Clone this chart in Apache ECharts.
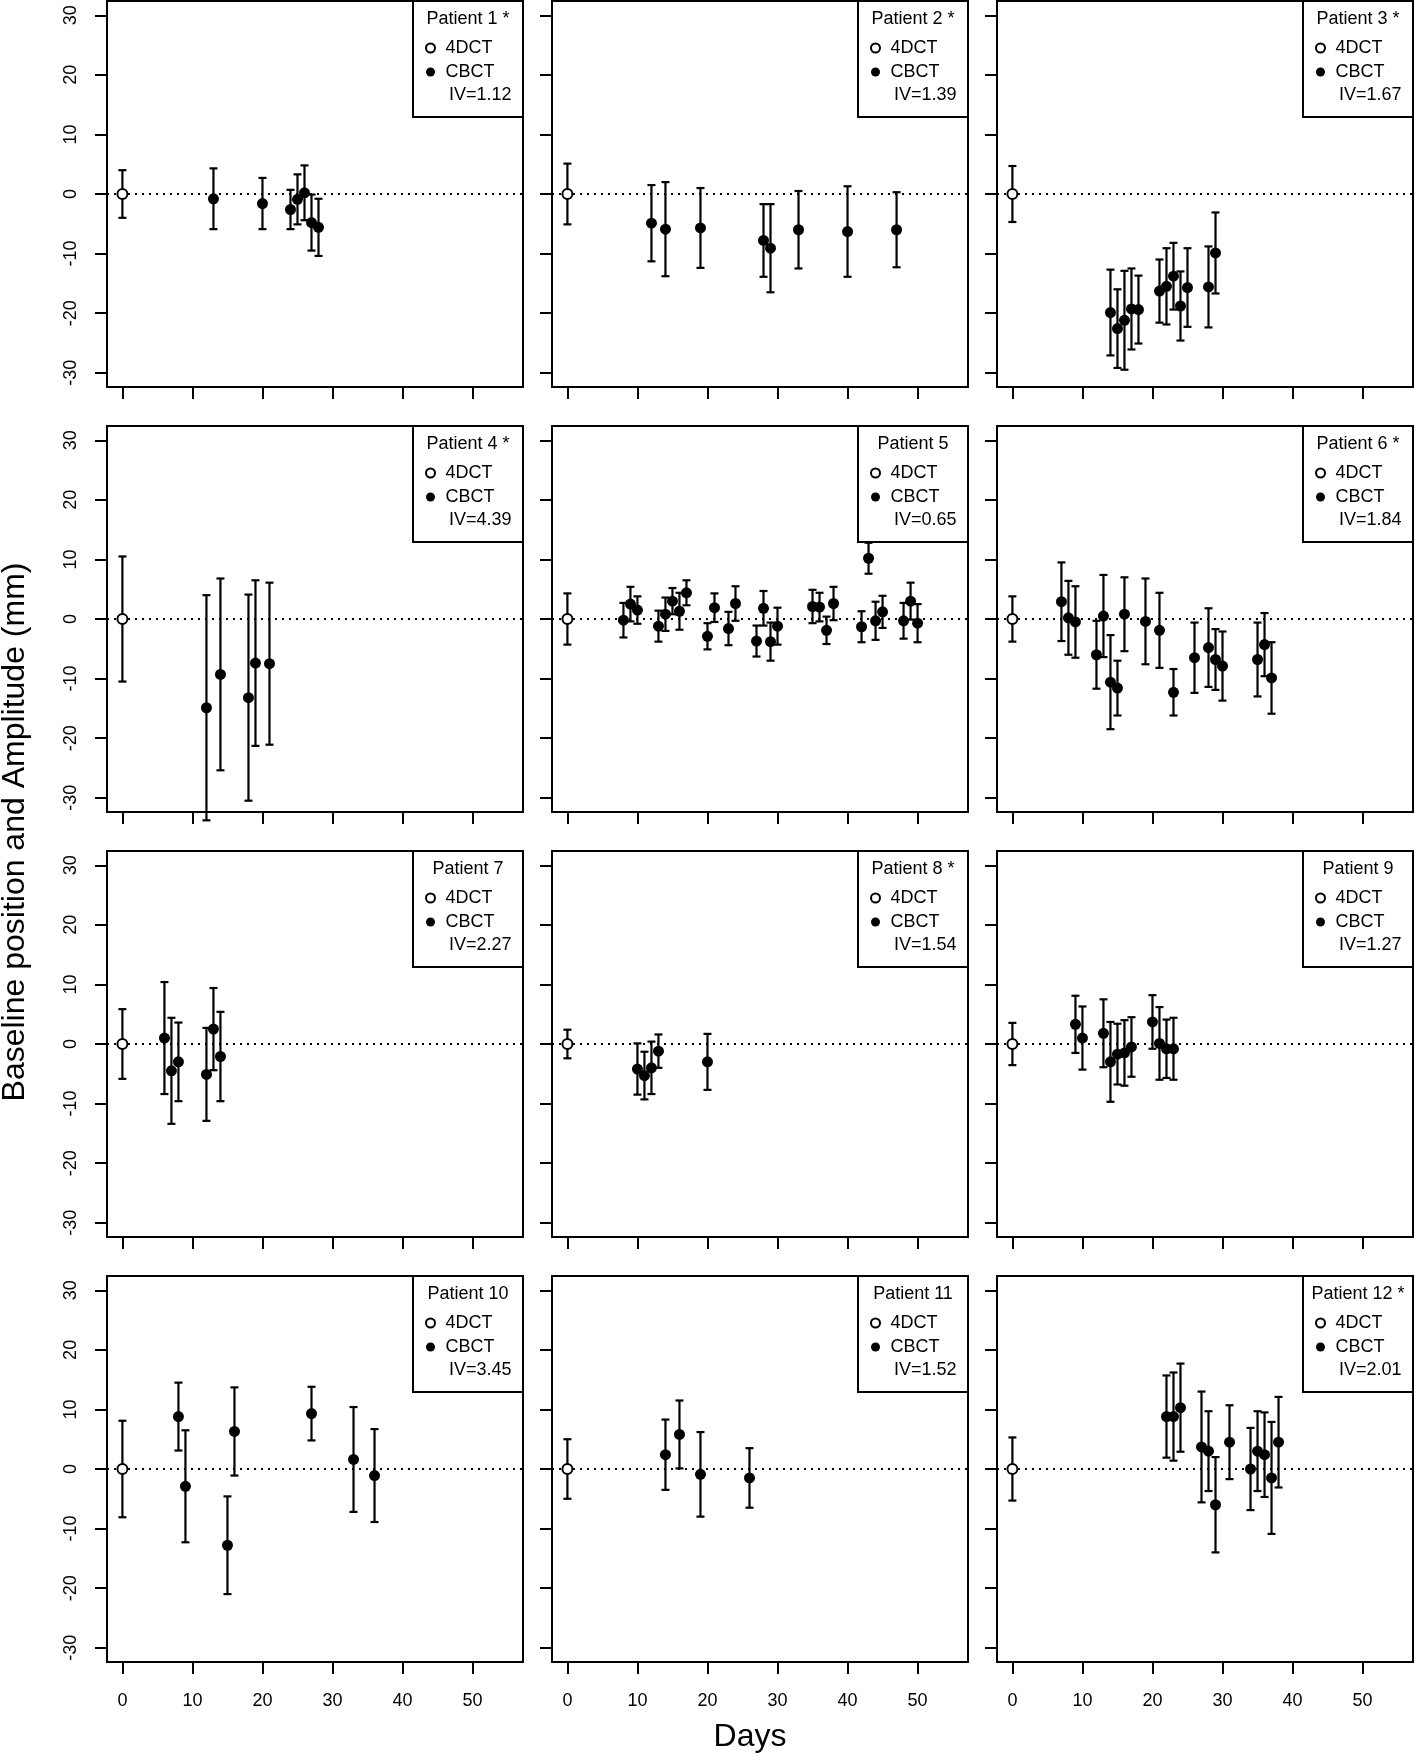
<!DOCTYPE html>
<html><head><meta charset="utf-8">
<script src="https://cdn.jsdelivr.net/npm/echarts@6/dist/echarts.min.js"></script>
<style>html,body{margin:0;padding:0;background:#fff}#c{width:1414px;height:1756px}</style>
</head><body><div id="c"></div>
<script>
// ---------- data ----------
const xTicks = [0, 10, 20, 30, 40, 50];
const yTicks = [-30, -20, -10, 0, 10, 20, 30];
const patientNames = ['Patient 1 *','Patient 2 *','Patient 3 *','Patient 4 *','Patient 5','Patient 6 *',
                      'Patient 7','Patient 8 *','Patient 9','Patient 10','Patient 11','Patient 12 *'];
const ivLabels = ['IV=1.12','IV=1.39','IV=1.67','IV=4.39','IV=0.65','IV=1.84',
                  'IV=2.27','IV=1.54','IV=1.27','IV=3.45','IV=1.52','IV=2.01'];
// 4DCT reference: day 0, baseline 0, amplitude per patient
const ctDay = 0;
const ctBase = 0;
const ctAmp = [4.0, 5.1, 4.7, 10.5, 4.3, 3.8, 5.85, 2.4, 3.55, 8.1, 5.0, 5.3];

const p1Days = [13, 20, 24, 25, 26, 27, 28];
const p1Base = [-0.8, -1.6, -2.6, -0.9, 0.2, -4.8, -5.6];
const p1Amp  = [5.1, 4.3, 3.3, 4.2, 4.6, 4.7, 4.8];

const p2Days = [12, 14, 19, 28, 29, 33, 40, 47];
const p2Base = [-4.9, -5.9, -5.7, -7.8, -9.1, -6.0, -6.3, -6.0];
const p2Amp  = [6.4, 7.9, 6.7, 6.1, 7.4, 6.5, 7.6, 6.3];

const p3Days = [14, 15, 16, 17, 18, 21, 22, 23, 24, 25, 28, 29];
const p3Base = [-19.9, -22.6, -21.2, -19.3, -19.4, -16.3, -15.5, -13.8, -18.8, -15.7, -15.6, -9.9];
const p3Amp  = [7.2, 6.6, 8.3, 6.8, 5.7, 5.3, 6.4, 5.6, 5.8, 6.6, 6.8, 6.8];

const p4Days = [12, 14, 18, 19, 21];
const p4Base = [-14.9, -9.3, -13.2, -7.4, -7.5];
const p4Amp  = [18.9, 16.1, 17.3, 13.9, 13.6];

const p5Days = [8, 9, 10, 13, 14, 15, 16, 17, 20, 21, 23, 24, 27, 28, 29, 30, 35, 36, 37, 38, 42, 43, 44, 45, 48, 49, 50];
const p5Base = [-0.2, 2.5, 1.5, -1.2, 0.8, 3.0, 1.3, 4.4, -2.9, 1.9, -1.6, 2.6, -3.7, 1.8, -3.8, -1.2, 2.1, 2.0, -1.9, 2.6, -1.3, 10.2, -0.3, 1.2, -0.3, 3.0, -0.7];
const p5Amp  = [2.9, 2.9, 2.3, 2.6, 2.8, 2.2, 3.1, 2.1, 2.2, 2.4, 2.8, 2.9, 2.6, 2.9, 3.2, 3.1, 2.8, 2.4, 2.3, 2.8, 2.6, 2.6, 3.2, 2.7, 3.0, 3.1, 3.2];

const p6Days = [7, 8, 9, 12, 13, 14, 15, 16, 19, 21, 23, 26, 28, 29, 30, 35, 36, 37];
const p6Base = [2.9, 0.2, -0.5, -6.0, 0.5, -10.6, -11.6, 0.8, -0.4, -1.9, -12.3, -6.5, -4.8, -6.8, -7.9, -6.8, -4.3, -9.9];
const p6Amp  = [6.6, 6.2, 6.0, 5.7, 6.9, 7.9, 4.6, 6.2, 7.2, 6.3, 3.9, 5.9, 6.6, 5.1, 5.8, 6.2, 5.3, 6.0];

const p7Days = [6, 7, 8, 12, 13, 14];
const p7Base = [1.0, -4.5, -3.0, -5.1, 2.5, -2.1];
const p7Amp  = [9.4, 8.9, 6.6, 7.8, 6.9, 7.5];

const p8Days = [10, 11, 12, 13, 20];
const p8Base = [-4.2, -5.3, -4.0, -1.2, -3.0];
const p8Amp  = [4.3, 4.0, 4.4, 2.8, 4.7];

const p9Days = [9, 10, 13, 14, 15, 16, 17, 20, 21, 22, 23];
const p9Base = [3.3, 1.0, 1.8, -3.0, -1.7, -1.5, -0.5, 3.7, 0.1, -0.8, -0.8];
const p9Amp  = [4.8, 5.3, 5.7, 6.7, 5.1, 5.5, 5.0, 4.5, 6.1, 4.9, 5.2];

const p10Days = [8, 9, 15, 16, 27, 33, 36];
const p10Base = [8.8, -2.9, -12.8, 6.3, 9.3, 1.6, -1.1];
const p10Amp  = [5.7, 9.4, 8.2, 7.4, 4.5, 8.8, 7.8];

const p11Days = [14, 16, 19, 26];
const p11Base = [2.4, 5.8, -0.9, -1.5];
const p11Amp  = [5.9, 5.7, 7.1, 5.0];

const p12Days = [22, 23, 24, 27, 28, 29, 31, 34, 35, 36, 37, 38];
const p12Base = [8.8, 8.8, 10.3, 3.7, 3.0, -6.0, 4.5, 0.0, 3.0, 2.4, -1.5, 4.5];
const p12Amp  = [6.9, 7.4, 7.4, 9.3, 6.7, 8.0, 6.2, 6.9, 6.7, 7.1, 9.4, 7.6];

const cbctDays = [p1Days,p2Days,p3Days,p4Days,p5Days,p6Days,p7Days,p8Days,p9Days,p10Days,p11Days,p12Days];
const cbctBase = [p1Base,p2Base,p3Base,p4Base,p5Base,p6Base,p7Base,p8Base,p9Base,p10Base,p11Base,p12Base];
const cbctAmp  = [p1Amp,p2Amp,p3Amp,p4Amp,p5Amp,p6Amp,p7Amp,p8Amp,p9Amp,p10Amp,p11Amp,p12Amp];

// ---------- layout / style ----------
const FONT = '"Liberation Sans", Arial, Helvetica, sans-serif';
const colLeft = [107, 552, 997];
const rowTop = [1, 426, 851, 1276];
const W = 416, H = 386;
const X_MIN = -2.2, X_MAX = 57.2, Y_MIN = -32.4, Y_MAX = 32.4;
const LEG_W = 110, LEG_H = 116;

function renderBar(params, api) {
  const x = api.value(0), y = api.value(1), a = api.value(2);
  const top = api.coord([x, y + a]);
  const bot = api.coord([x, y - a]);
  const w = 4;
  const st = { stroke: '#000', lineWidth: 2.2 };
  return { type: 'group', children: [
    { type: 'line', shape: { x1: top[0], y1: top[1], x2: bot[0], y2: bot[1] }, style: st },
    { type: 'line', shape: { x1: top[0] - w, y1: top[1], x2: top[0] + w, y2: top[1] }, style: st },
    { type: 'line', shape: { x1: bot[0] - w, y1: bot[1], x2: bot[0] + w, y2: bot[1] }, style: st }
  ]};
}

const grids = [], xAxes = [], yAxes = [], series = [], legends = [], graphics = [];
for (let i = 0; i < 12; i++) {
  const r = Math.floor(i / 3), c = i % 3;
  const gl = colLeft[c], gt = rowTop[r];
  grids.push({ left: gl, top: gt, width: W, height: H, show: true, borderColor: '#000', borderWidth: 2, backgroundColor: 'transparent' });
  xAxes.push({
    gridIndex: i, type: 'value', min: X_MIN, max: X_MAX, position: 'bottom',
    axisLine: { show: false, onZero: false },
    axisTick: { show: true, inside: false, customValues: xTicks, length: 12, lineStyle: { color: '#000', width: 2 } },
    axisLabel: { show: r === 3, customValues: xTicks, fontSize: 18, color: '#000', fontFamily: FONT, margin: 30 },
    splitLine: { show: false },
    name: (i === 10) ? 'Days' : '', nameLocation: 'middle', nameGap: 59,
    nameTextStyle: { fontSize: 32, color: '#000', fontFamily: FONT, padding: [0, 20, 0, 0] }
  });
  yAxes.push({
    gridIndex: i, type: 'value', min: Y_MIN, max: Y_MAX, position: 'left',
    axisLine: { show: false, onZero: false },
    axisTick: { show: true, inside: false, customValues: yTicks, length: 12, lineStyle: { color: '#000', width: 2 } },
    axisLabel: { show: c === 0, customValues: yTicks, rotate: 90, fontSize: 18, color: '#000', fontFamily: FONT, margin: 27 },
    splitLine: { show: false }
  });
  const barData = [[ctDay, ctBase, ctAmp[i]]];
  const cbData = [];
  for (let k = 0; k < cbctDays[i].length; k++) {
    barData.push([cbctDays[i][k], cbctBase[i][k], cbctAmp[i][k]]);
    cbData.push([cbctDays[i][k], cbctBase[i][k]]);
  }
  series.push({
    type: 'custom', name: 'range' + (i + 1), xAxisIndex: i, yAxisIndex: i, clip: false,
    renderItem: renderBar, data: barData, encode: { x: 0, y: 1 }, silent: true, z: 2
  });
  series.push({
    type: 'scatter', name: '4DCT', xAxisIndex: i, yAxisIndex: i, symbol: 'circle', symbolSize: 10,
    itemStyle: { color: '#fff', borderColor: '#000', borderWidth: 2, opacity: 1 },
    data: [[ctDay, ctBase]], z: 3, silent: true,
    markLine: { silent: true, symbol: ['none', 'none'], label: { show: false },
      lineStyle: { color: '#000', type: [2, 5], width: 2 }, data: [{ yAxis: 0 }], z: 1 }
  });
  series.push({
    type: 'scatter', name: 'CBCT', xAxisIndex: i, yAxisIndex: i, symbol: 'circle', symbolSize: 11,
    itemStyle: { color: '#000', opacity: 1 }, data: cbData, z: 3, silent: true
  });
  const lx = gl + W - LEG_W;
  legends.push({
    orient: 'vertical', left: lx + 12, top: gt + 38, padding: 0, itemGap: 6,
    itemWidth: 20, itemHeight: 9, selectedMode: false, z: 6,
    textStyle: { fontSize: 18, color: '#000', fontFamily: FONT, lineHeight: 18 },
    data: [
      { name: '4DCT', icon: 'circle', itemStyle: { color: '#fff', borderColor: '#000', borderWidth: 2 } },
      { name: 'CBCT', icon: 'circle', itemStyle: { color: '#000', borderWidth: 0 } }
    ]
  });
  graphics.push({ type: 'rect', z: 5, shape: { x: lx, y: gt, width: LEG_W, height: LEG_H },
    style: { fill: '#fff', stroke: '#000', lineWidth: 2 } });
  graphics.push({ type: 'text', z: 7, x: lx + LEG_W / 2, y: gt + 18,
    style: { text: patientNames[i], fontSize: 18, fontFamily: FONT, fill: '#000', align: 'center', verticalAlign: 'middle' } });
  graphics.push({ type: 'text', z: 7, x: lx + 36, y: gt + 94,
    style: { text: ivLabels[i], fontSize: 18, fontFamily: FONT, fill: '#000', align: 'left', verticalAlign: 'middle' } });
}
graphics.push({ type: 'text', z: 7, x: 15, y: 832, rotation: Math.PI / 2,
  style: { text: 'Baseline position and Amplitude (mm)', fontSize: 32, fontFamily: FONT, fill: '#000', align: 'center', verticalAlign: 'middle' } });

const chart = echarts.init(document.getElementById('c'), null, { renderer: 'canvas' });
chart.setOption({
  backgroundColor: '#fff',
  animation: false,
  grid: grids, xAxis: xAxes, yAxis: yAxes, series: series, legend: legends, graphic: graphics
});
</script></body></html>
